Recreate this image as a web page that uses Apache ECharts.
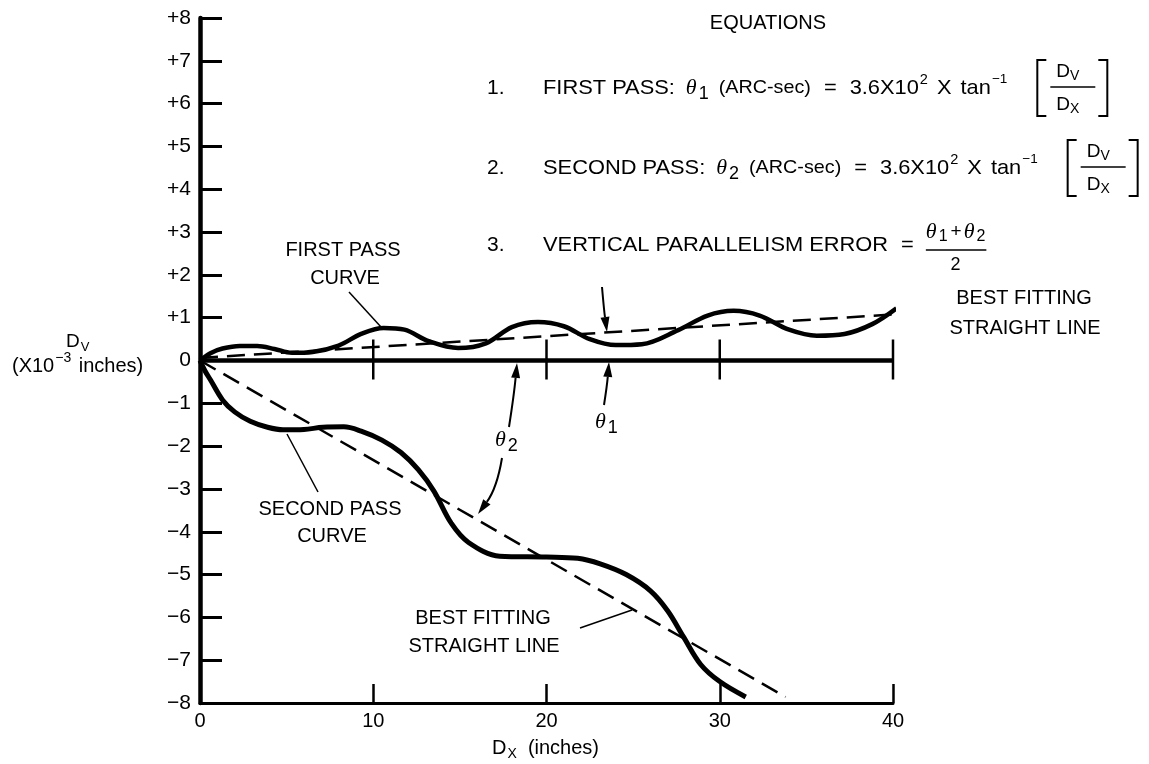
<!DOCTYPE html>
<html><head><meta charset="utf-8">
<script src="https://cdn.jsdelivr.net/npm/echarts@6/dist/echarts.min.js"></script>
<style>html,body{margin:0;padding:0;background:#fff}#c{width:1149px;height:764px}</style>
</head><body><div id="c"></div>
<script>
// ---------- DATA ----------
const xMin = 0, xMax = 40, xStep = 10;
const yMin = -8, yMax = 8, yStep = 1;
const zeroLineTicks = [10, 20, 30, 40];

const firstPassX = [0, 0.6, 1.3, 2.3, 3.3, 4.3, 5.3, 6.5, 8.0, 9.3, 10.6, 11.8, 13.2, 14.9, 16.5, 18.0, 19.5, 21.0, 22.5, 24.0, 25.5, 27.6, 29.3, 30.8, 32.3, 34.0, 35.6, 37.2, 38.8, 40.2];
const firstPassY = [0, 0.17, 0.28, 0.34, 0.34, 0.27, 0.18, 0.20, 0.35, 0.62, 0.76, 0.72, 0.45, 0.29, 0.40, 0.78, 0.90, 0.80, 0.50, 0.36, 0.38, 0.71, 1.05, 1.16, 1.05, 0.72, 0.58, 0.62, 0.85, 1.22];

const secondPassX = [0, 0.3, 0.6, 1.3, 2.0, 2.9, 3.9, 4.8, 6.0, 7.1, 8.3, 9.3, 10.5, 11.6, 12.6, 13.5, 14.5, 15.5, 17.3, 20.0, 21.8, 23.1, 24.6, 26.0, 27.0, 27.9, 28.9, 30.0, 31.5];
const secondPassY = [0, -0.25, -0.45, -0.92, -1.2, -1.42, -1.56, -1.62, -1.61, -1.56, -1.55, -1.65, -1.86, -2.15, -2.55, -3.05, -3.8, -4.25, -4.57, -4.59, -4.62, -4.75, -5.0, -5.38, -5.85, -6.45, -7.1, -7.5, -7.86];

const bestFit1X = [0, 42.2];
const bestFit1Y = [0.06, 1.13];
const bestFit2X = [0, 33.8];
const bestFit2Y = [0, -7.86];

// ---------- HELPERS ----------
const SANS = '"Liberation Sans", Arial, Helvetica, sans-serif';
const SERIF = '"Liberation Serif", "DejaVu Serif", serif';
const mctx = document.createElement('canvas').getContext('2d');
function F(size, fam, style) { return (style || 'normal') + ' ' + size + 'px ' + (fam || SANS); }
function tw(t, font) { mctx.font = font; return mctx.measureText(t).width; }
function txt(t, x, y, font, align, sx) {
  align = align || 'left';
  return { type: 'text', x: x, y: y, scaleX: sx || 1, silent: true, z: 10,
    style: { text: t, font: font, fill: '#000', textAlign: align, textVerticalAlign: 'middle', align: align, verticalAlign: 'middle' } };
}
function flow(x, y, parts, els, sx) {
  sx = sx || 1;
  let cx = x;
  for (const p of parts) {
    cx += p.gap || 0;
    const s = p.sx || sx;
    els.push(txt(p.t, cx, y + (p.dy || 0), p.font, 'left', s));
    cx += tw(p.t, p.font) * s;
  }
  return cx;
}
function line(x1, y1, x2, y2, w, els) {
  els.push({ type: 'line', silent: true, z: 10, shape: { x1, y1, x2, y2 }, style: { stroke: '#000', lineWidth: w || 1.5 } });
}
function arrow(x1, y1, cx, cy, x2, y2, els) {
  const ang = Math.atan2(y2 - cy, x2 - cx);
  const L = 15, W = 4.5;
  const bx = x2 - L * Math.cos(ang), by = y2 - L * Math.sin(ang);
  els.push({ type: 'bezierCurve', silent: true, z: 10, shape: { x1, y1, x2: bx, y2: by, cpx1: cx, cpy1: cy }, style: { stroke: '#000', lineWidth: 2, fill: null } });
  const px = -Math.sin(ang) * W, py = Math.cos(ang) * W;
  els.push({ type: 'polygon', silent: true, z: 10, shape: { points: [[x2, y2], [bx + px, by + py], [bx - px, by - py]] }, style: { fill: '#000' } });
}
function dFrac(x, y, els) {
  // bracketed Dv / Dx
  const w = 70, h = 56, top = y - h / 2, bot = y + h / 2;
  els.push({ type: 'polyline', silent: true, z: 10, shape: { points: [[x + 9, top], [x, top], [x, bot], [x + 9, bot]] }, style: { stroke: '#000', lineWidth: 2, fill: null } });
  els.push({ type: 'polyline', silent: true, z: 10, shape: { points: [[x + w - 9, top], [x + w, top], [x + w, bot], [x + w - 9, bot]] }, style: { stroke: '#000', lineWidth: 2, fill: null } });
  line(x + 13, y - 1, x + w - 12, y - 1, 1.5, els);
  flow(x + 19, y - 16, [{ t: 'D', font: F(19) }, { t: 'V', font: F(14), dy: 4 }], els);
  flow(x + 19, y + 17, [{ t: 'D', font: F(19) }, { t: 'X', font: F(14), dy: 4 }], els);
}
function theta(x, y, sub, els) {
  flow(x, y, [{ t: 'θ', font: F(22, SERIF, 'italic') }, { t: sub, font: F(18), dy: 6, gap: 2 }], els);
}
function eqLine(num, label, sub, y, els) {
  els.push(txt(num, 487, y, F(EQ)));
  const e = flow(543, y, [
    { t: label, font: F(EQ) },
    { t: 'θ', font: F(22, SERIF, 'italic'), gap: 11, sx: 1 },
    { t: sub, font: F(18), dy: 6, gap: 2, sx: 1 },
    { t: '(ARC-sec)', font: F(19), gap: 10 },
    { t: '=', font: F(EQ), gap: 13 },
    { t: '3.6X10', font: F(EQ), gap: 13 },
    { t: '2', font: F(14), dy: -8, gap: 1 },
    { t: 'X', font: F(EQ), gap: 9 },
    { t: 'tan', font: F(EQ), gap: 9 },
    { t: '−1', font: F(13), dy: -9, gap: 1 }
  ], els, ESX);
  dFrac(e + 30, y, els);
}

// ---------- ANNOTATIONS ----------
const G = [];
const EQ = 21, ESX = 1.04;
G.push(txt('EQUATIONS', 768, 23, F(20), 'center'));
eqLine('1.', 'FIRST PASS:', '1', 88, G);
eqLine('2.', 'SECOND PASS:', '2', 168, G);
// line 3
G.push(txt('3.', 487, 245, F(EQ)));
let e = flow(543, 245, [
  { t: 'VERTICAL PARALLELISM ERROR', font: F(EQ) },
  { t: '=', font: F(EQ), gap: 13 }
], G, ESX);
const fx = e + 12;
const numEnd = flow(fx, 232, [
  { t: 'θ', font: F(22, SERIF, 'italic') }, { t: '1', font: F(16), dy: 5, gap: 2 },
  { t: '+', font: F(19), gap: 3 },
  { t: 'θ', font: F(22, SERIF, 'italic'), gap: 2 }, { t: '2', font: F(16), dy: 5, gap: 2 }
], G);
line(fx, 250, numEnd + 1, 250, 1.5, G);
G.push(txt('2', (fx + numEnd) / 2, 265, F(18), 'center'));

// curve labels
G.push(txt('FIRST PASS', 343, 250, F(20), 'center'));
G.push(txt('CURVE', 345, 278, F(20), 'center'));
line(349, 292, 381, 327, 1.5, G);
G.push(txt('SECOND PASS', 330, 509, F(20), 'center'));
G.push(txt('CURVE', 332, 536, F(20), 'center'));
line(318, 492, 287, 434, 1.5, G);
G.push(txt('BEST FITTING', 483, 618, F(20), 'center'));
G.push(txt('STRAIGHT LINE', 484, 646, F(20), 'center'));
line(580, 628, 632, 610, 1.5, G);
G.push(txt('BEST FITTING', 1024, 298, F(20), 'center'));
G.push(txt('STRAIGHT LINE', 1025, 328, F(20), 'center'));

// theta annotations
theta(595, 422, '1', G);
theta(495, 440, '2', G);
arrow(604, 405, 607, 386, 609, 362, G);
arrow(602, 287, 604, 310, 607, 332, G);
arrow(509, 427, 514, 395, 517, 363, G);
arrow(502, 458, 497, 488, 478, 514, G);

// axis titles
flow(66, 342, [{ t: 'D', font: F(19) }, { t: 'V', font: F(13), dy: 5, gap: 1 }], G);
flow(12, 366, [{ t: '(X10', font: F(20) }, { t: '−3', font: F(14), dy: -8, gap: 1 }, { t: ' inches)', font: F(20), gap: 2 }], G);
flow(492, 748, [{ t: 'D', font: F(20) }, { t: 'X', font: F(14), dy: 6, gap: 1 }, { t: '  (inches)', font: F(20) }], G);

// ---------- CHART ----------
const pairs = (xs, ys) => xs.map((x, i) => [x, ys[i]]);
const chart = echarts.init(document.getElementById('c'), null, { renderer: 'canvas' });
chart.setOption({
  animation: false,
  backgroundColor: '#fff',
  grid: { left: 200, top: 18, width: 693, height: 685, containLabel: false },
  xAxis: {
    type: 'value', min: xMin, max: xMax, interval: xStep,
    axisLine: { onZero: false, lineStyle: { color: '#000', width: 3 } },
    axisTick: { inside: true, length: 19, lineStyle: { color: '#000', width: 2.5 } },
    axisLabel: { color: '#000', fontSize: 20, fontFamily: SANS, margin: 8 },
    splitLine: { show: false }
  },
  yAxis: {
    type: 'value', min: yMin, max: yMax, interval: yStep,
    axisLine: { onZero: false, lineStyle: { color: '#000', width: 4.5 } },
    axisTick: { inside: true, length: 22, lineStyle: { color: '#000', width: 3 } },
    axisLabel: { color: '#000', fontSize: 21, fontFamily: SANS, margin: 9,
      formatter: v => v > 0 ? '+' + v : (v < 0 ? '\u2212' + (-v) : '0') },
    splitLine: { show: false }
  },
  series: [
    { name: 'Zero line', type: 'line', data: [[xMin, 0], [xMax, 0]], symbol: 'none', silent: true,
      lineStyle: { color: '#000', width: 4.5 }, z: 2 },
    { name: 'Zero line ticks', type: 'custom', data: zeroLineTicks.map(v => [v, 0]), silent: true, z: 3, clip: false,
      renderItem: (params, api) => {
        const p = api.coord([api.value(0), api.value(1)]);
        return { type: 'line', shape: { x1: p[0], y1: p[1] - 21, x2: p[0], y2: p[1] + 19 }, style: { stroke: '#000', lineWidth: 2.5 } };
      } },
    { name: 'First pass best fit', type: 'line', data: pairs(bestFit1X, bestFit1Y), symbol: 'none', clip: false, silent: true,
      lineStyle: { color: '#000', width: 2.5, type: [18, 9] }, z: 4 },
    { name: 'First pass curve', type: 'line', smooth: 0.35, data: pairs(firstPassX, firstPassY), symbol: 'none', clip: false, silent: true,
      lineStyle: { color: '#000', width: 4.5 }, z: 5 },
    { name: 'Second pass best fit', type: 'line', data: pairs(bestFit2X, bestFit2Y), symbol: 'none', clip: false, silent: true,
      lineStyle: { color: '#000', width: 2.5, type: [18, 9] }, z: 4 },
    { name: 'Second pass curve', type: 'line', smooth: 0.35, data: pairs(secondPassX, secondPassY), symbol: 'none', clip: false, silent: true,
      lineStyle: { color: '#000', width: 5 }, z: 5 }
  ],
  graphic: { elements: G }
});
</script>
</body></html>
